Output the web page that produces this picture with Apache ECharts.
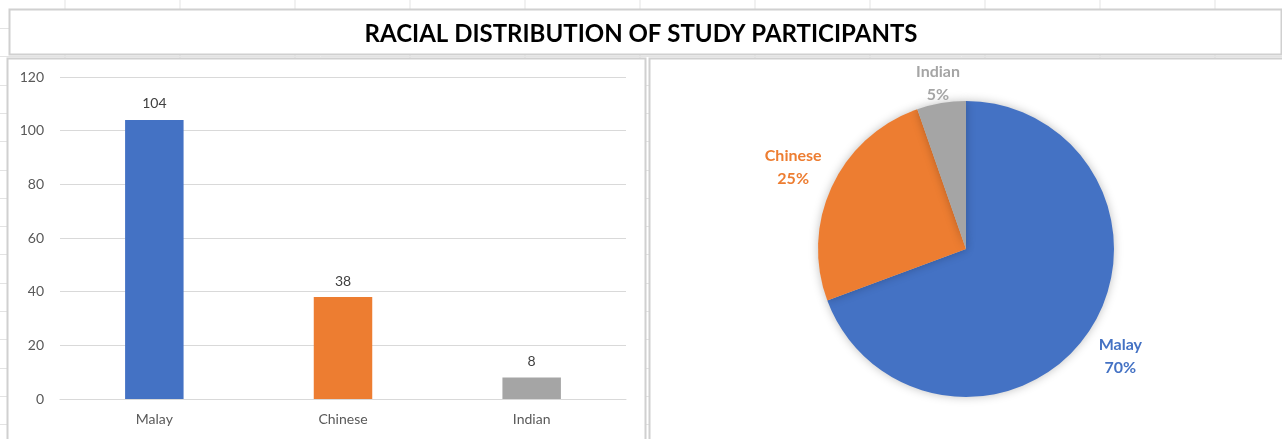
<!DOCTYPE html>
<html>
<head>
<meta charset="utf-8">
<script src="https://cdn.jsdelivr.net/npm/echarts@6/dist/echarts.min.js"></script>
<style>
html,body{margin:0;padding:0;background:#fff;}
#chart{width:1282px;height:439px;}
</style>
</head>
<body>
<div id="chart"></div>
<script>
var categories = ['Malay', 'Chinese', 'Indian'];
var counts = [104, 38, 8];
var percentLabels = ['70%', '25%', '5%'];
var yTicks = [0, 20, 40, 60, 80, 100, 120];
var colors = ['#4472C4', '#ED7D31', '#A5A5A5'];
var titleText = 'RACIAL DISTRIBUTION OF STUDY PARTICIPANTS';

var chart = echarts.init(document.getElementById('chart'), null, {renderer: 'canvas'});

// spreadsheet background grid (decoration)
var bg = [];
for (var x = 65; x < 1282; x += 115) {
  bg.push({type: 'line', z: -10, silent: true, shape: {x1: x, y1: 0, x2: x, y2: 439}, style: {stroke: '#e3e3e3', lineWidth: 1}});
}
for (var y = 28; y < 439; y += 28.3) {
  bg.push({type: 'line', z: -10, silent: true, shape: {x1: 0, y1: Math.round(y) + 0.5, x2: 1282, y2: Math.round(y) + 0.5}, style: {stroke: '#e3e3e3', lineWidth: 1}});
}
// boxes
bg.push({type: 'rect', z: -5, silent: true, shape: {x: 9.5, y: 9.5, width: 1272, height: 45}, style: {fill: '#fff', stroke: '#d0d0d0', lineWidth: 2}});
bg.push({type: 'rect', z: -5, silent: true, shape: {x: 7.5, y: 58.5, width: 638, height: 400}, style: {fill: '#fff', stroke: '#d0d0d0', lineWidth: 2}});
bg.push({type: 'rect', z: -5, silent: true, shape: {x: 649.5, y: 58.5, width: 640, height: 400}, style: {fill: '#fff', stroke: '#d0d0d0', lineWidth: 2}});

var labelDist = [40, 43, 20];
var pieData = categories.map(function (c, i) {
  return {
    name: c,
    value: counts[i],
    itemStyle: {color: colors[i]},
    label: {color: colors[i]},
    labelLine: {length: labelDist[i]}
  };
});

var option = {
  animation: false,
  backgroundColor: '#fff',
  graphic: bg,
  title: {
    text: titleText,
    left: 'center',
    top: 17,
    textStyle: {fontFamily: 'Lato', fontWeight: 'bold', fontSize: 24, color: '#000'}
  },
  grid: {left: 60, right: 656, top: 77, bottom: 40, containLabel: false},
  xAxis: {
    type: 'category',
    data: categories,
    axisLine: {show: true, lineStyle: {color: '#d9d9d9', width: 1}},
    axisTick: {show: false},
    axisLabel: {fontFamily: 'Lato', fontSize: 14, color: '#595959', margin: 13}
  },
  yAxis: {
    type: 'value',
    min: yTicks[0],
    max: yTicks[yTicks.length - 1],
    interval: yTicks[1] - yTicks[0],
    axisLine: {show: false},
    axisTick: {show: false},
    splitLine: {lineStyle: {color: '#d9d9d9', width: 1}},
    axisLabel: {fontFamily: 'Lato', fontSize: 14, color: '#595959', margin: 16}
  },
  series: [
    {
      type: 'bar',
      data: counts.map(function (v, i) { return {value: v, itemStyle: {color: colors[i]}}; }),
      barWidth: '31%',
      label: {show: true, position: 'top', distance: 9, fontFamily: 'Lato', fontSize: 14, color: '#404040'}
    },
    {
      type: 'pie',
      center: [966, 249],
      radius: 148,
      startAngle: 90,
      clockwise: true,
      avoidLabelOverlap: false,
      data: pieData,
      itemStyle: {borderWidth: 0, shadowBlur: 10, shadowColor: 'rgba(0,0,0,0.25)'},
      label: {
        show: true,
        position: 'outside',
        fontFamily: 'Lato',
        fontWeight: 'bold',
        fontSize: 16,
        lineHeight: 23,
        align: 'center',
        formatter: function (p) { return p.name + '\n' + percentLabels[p.dataIndex]; }
      },
      labelLine: {show: true, length: 40, length2: 0, lineStyle: {opacity: 0, width: 0}},
      labelLayout: function (p) {
        var pts = p.labelLinePoints;
        if (!pts) return {};
        return {x: pts[1][0], y: pts[1][1], align: 'center', verticalAlign: 'middle'};
      }
    }
  ]
};
chart.setOption(option);
</script>
</body>
</html>
